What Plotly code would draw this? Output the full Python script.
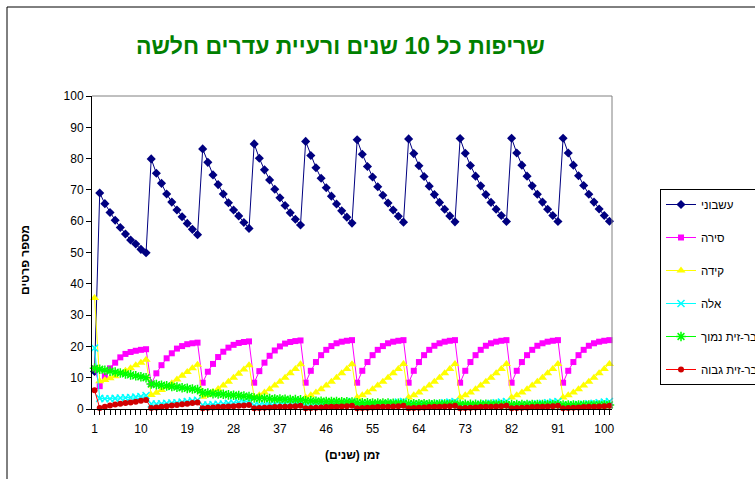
import plotly.graph_objects as go

# ---------------- data ----------------
years = list(range(1, 102))
tick_vals = [1, 10, 19, 28, 37, 46, 55, 64, 73, 82, 91, 100]
tick_text = [str(v) for v in tick_vals]
y_ticks = list(range(0, 101, 10))

names = ["עשבוני", "סירה", "קידה", "אלה", "בר-זית נמוך", "בר-זית גבוה"]

herb = [12.0,
        69.0, 65.6, 62.8, 60.3, 58.0, 55.9, 54.0, 52.7, 51.0, 49.9,
        79.9, 75.3, 72.1, 68.7, 66.1, 63.6, 61.4, 59.3, 57.4, 55.7,
        83.1, 78.8, 74.8, 71.7, 68.7, 65.9, 63.6, 61.7, 59.6, 57.7,
        84.7, 80.1, 76.4, 73.2, 70.2, 67.5, 65.0, 62.7, 60.6, 58.8,
        85.5, 81.0, 77.1, 73.7, 70.7, 68.0, 65.5, 63.3, 61.3, 59.4,
        86.0, 81.4, 77.5, 74.1, 71.0, 68.3, 65.8, 63.6, 61.6, 59.7,
        86.3, 81.6, 77.7, 74.3, 71.2, 68.5, 66.0, 63.8, 61.7, 59.8,
        86.4, 81.7, 77.8, 74.4, 71.3, 68.5, 66.0, 63.8, 61.8, 59.9,
        86.5, 81.8, 77.9, 74.4, 71.3, 68.6, 66.1, 63.8, 61.8, 59.9,
        86.5, 81.8, 77.9, 74.5, 71.4, 68.6, 66.1, 63.9, 61.8, 60.0]

sira = [13.0,
        7.3, 10.5, 13.0, 14.8, 16.5, 17.6, 18.2, 18.6, 18.9, 19.1,
        8.0, 11.4, 14.0, 16.2, 17.8, 19.3, 20.1, 20.7, 21.0, 21.2,
        8.4, 11.9, 14.4, 16.6, 18.3, 19.6, 20.5, 21.1, 21.4, 21.6,
        8.4, 12.1, 14.8, 17.0, 18.7, 20.0, 20.9, 21.4, 21.7, 21.9,
        8.4, 12.2, 15.0, 17.2, 18.9, 20.1, 21.0, 21.5, 21.8, 22.0,
        8.4, 12.2, 15.0, 17.2, 18.9, 20.1, 21.0, 21.5, 21.8, 22.0,
        8.4, 12.2, 15.0, 17.2, 18.9, 20.2, 21.0, 21.5, 21.8, 22.0,
        8.4, 12.2, 15.0, 17.2, 18.9, 20.2, 21.0, 21.5, 21.8, 22.0,
        8.4, 12.2, 15.0, 17.2, 18.9, 20.2, 21.0, 21.5, 21.8, 22.0,
        8.4, 12.2, 15.0, 17.2, 18.9, 20.2, 21.0, 21.5, 21.8, 22.0]

kida = [35.5,
        8.9, 9.3, 9.8, 10.5, 11.4, 12.2, 13.0, 14.0, 14.8, 15.7,
        4.5, 5.2, 6.1, 7.1, 8.2, 9.4, 10.6, 11.8, 13.0, 14.1,
        3.9, 4.5, 5.4, 6.4, 7.5, 8.7, 10.0, 11.3, 12.6, 14.0,
        3.8, 4.4, 5.3, 6.3, 7.5, 8.7, 10.0, 11.4, 12.8, 14.3,
        3.7, 4.4, 5.3, 6.3, 7.5, 8.7, 10.0, 11.4, 12.8, 14.3,
        3.7, 4.4, 5.3, 6.3, 7.5, 8.7, 10.0, 11.4, 12.8, 14.4,
        3.7, 4.4, 5.3, 6.3, 7.5, 8.7, 10.0, 11.4, 12.8, 14.4,
        3.7, 4.4, 5.3, 6.3, 7.5, 8.7, 10.0, 11.4, 12.8, 14.4,
        3.7, 4.4, 5.3, 6.3, 7.5, 8.7, 10.0, 11.4, 12.8, 14.4,
        3.7, 4.4, 5.3, 6.3, 7.5, 8.7, 10.0, 11.4, 12.8, 14.4]

ela = [19.5,
       3.4, 3.3, 3.3, 3.4, 3.5, 3.6, 3.7, 3.8, 4.0, 4.3,
       1.6, 1.6, 1.7, 1.8, 1.9, 2.0, 2.2, 2.4, 2.6, 2.8,
       1.3, 1.3, 1.4, 1.5, 1.6, 1.8, 1.9, 2.1, 2.3, 2.5,
       1.2, 1.2, 1.3, 1.4, 1.5, 1.7, 1.8, 2.0, 2.2, 2.4,
       1.2, 1.2, 1.3, 1.4, 1.5, 1.7, 1.8, 2.0, 2.2, 2.4,
       1.2, 1.2, 1.3, 1.4, 1.5, 1.7, 1.8, 2.0, 2.2, 2.4,
       1.2, 1.2, 1.3, 1.4, 1.5, 1.7, 1.8, 2.0, 2.2, 2.4,
       1.2, 1.2, 1.3, 1.4, 1.5, 1.7, 1.8, 2.0, 2.2, 2.4,
       1.2, 1.2, 1.3, 1.4, 1.5, 1.7, 1.8, 2.0, 2.2, 2.4,
       1.2, 1.2, 1.3, 1.4, 1.5, 1.7, 1.8, 2.0, 2.2, 2.4]

barzit_low = [13.0,
              12.7, 12.4, 12.1, 11.8, 11.5, 11.2, 10.9, 10.6, 10.3, 10.0,
              8.0, 7.8, 7.6, 7.4, 7.2, 7.0, 6.8, 6.6, 6.4, 6.2,
              5.2, 5.1, 4.9, 4.8, 4.7, 4.5, 4.4, 4.3, 4.1, 4.0,
              3.5, 3.4, 3.4, 3.3, 3.2, 3.2, 3.1, 3.0, 3.0, 2.9,
              2.6, 2.6, 2.5, 2.5, 2.4, 2.4, 2.4, 2.3, 2.3, 2.2,
              2.0, 2.0, 2.0, 1.9, 1.9, 1.9, 1.9, 1.8, 1.8, 1.8,
              1.7, 1.7, 1.7, 1.7, 1.6, 1.6, 1.6, 1.6, 1.6, 1.6,
              1.5, 1.5, 1.5, 1.5, 1.5, 1.5, 1.5, 1.5, 1.4, 1.4,
              1.4, 1.4, 1.4, 1.4, 1.4, 1.4, 1.4, 1.4, 1.4, 1.4,
              1.3, 1.3, 1.3, 1.3, 1.3, 1.3, 1.3, 1.3, 1.3, 1.3]

barzit_high = [6.0,
               0.3, 0.7, 1.1, 1.4, 1.7, 1.9, 2.1, 2.3, 2.6, 2.9,
               0.3, 0.5, 0.7, 0.9, 1.1, 1.3, 1.5, 1.7, 1.9, 2.1,
               0.2, 0.4, 0.5, 0.6, 0.7, 0.8, 0.9, 1.0, 1.1, 1.3,
               0.2, 0.3, 0.4, 0.5, 0.6, 0.7, 0.7, 0.8, 0.9, 1.0,
               0.2, 0.3, 0.4, 0.5, 0.6, 0.7, 0.7, 0.8, 0.9, 1.0,
               0.2, 0.3, 0.4, 0.5, 0.6, 0.7, 0.7, 0.8, 0.9, 1.0,
               0.2, 0.3, 0.4, 0.5, 0.6, 0.7, 0.7, 0.8, 0.9, 1.0,
               0.2, 0.3, 0.4, 0.5, 0.6, 0.7, 0.7, 0.8, 0.9, 1.0,
               0.2, 0.3, 0.4, 0.5, 0.6, 0.7, 0.7, 0.8, 0.9, 1.0,
               0.2, 0.3, 0.4, 0.5, 0.6, 0.7, 0.7, 0.8, 0.9, 1.0]

series = [herb, sira, kida, ela, barzit_low, barzit_high]

title_text = "שריפות כל 10 שנים ורעיית עדרים חלשה"
x_title = "זמן (שנים)"
y_title = "מספר פרטים"

# ---------------- styling ----------------
W, H = 755, 479
L, R, T, B = 92, 612, 96, 409
FONT = "Liberation Sans, Arial, sans-serif"


def px(x):
    return (x - L) / (R - L)


def py(y):
    return (B - y) / (B - T)


styles = [
    dict(line="#000080", marker=dict(symbol="diamond", size=7, color="#000080")),
    dict(line="#FF00FF", marker=dict(symbol="square", size=6, color="#FF00FF")),
    dict(line="#FFFF00", marker=dict(symbol="triangle-up", size=8, color="#FFFF00")),
    dict(line="#00FFFF", marker=dict(symbol="x-thin", size=7, color="#00FFFF",
                                     line=dict(color="#00FFFF", width=1.5))),
    dict(line="#00FF00", marker=dict(symbol="asterisk", size=8, color="#00FF00",
                                     line=dict(color="#00FF00", width=1.5))),
    dict(line="#FF0000", marker=dict(symbol="circle", size=6, color="#D00000")),
]

fig = go.Figure()
for name, vals, st in zip(names, series, styles):
    fig.add_trace(go.Scatter(
        x=years, y=vals, mode="lines+markers",
        name=name, legendgroup=name,
        line=dict(color=st["line"], width=1),
        marker=st["marker"], cliponaxis=False,
    ))

fig.update_layout(
    width=W, height=H,
    margin=dict(l=L, r=W - R, t=T, b=H - B, pad=0, autoexpand=False),
    paper_bgcolor="white", plot_bgcolor="white",
    font=dict(family=FONT, size=12, color="black"),
    showlegend=True,
    legend=dict(x=px(660), y=py(189), xanchor="left", yanchor="top",
                bordercolor="black", borderwidth=1, bgcolor="white",
                font=dict(size=11.5, family=FONT), tracegroupgap=14),
    xaxis=dict(range=[0.5, 101.5], tickmode="array", tickvals=tick_vals,
               ticktext=tick_text, ticks="outside", ticklen=5, tickcolor="black",
               showgrid=False, zeroline=False, ticklabelstandoff=4,
               showline=True, linecolor="black", linewidth=1,
               tickfont=dict(size=12),
               minor=dict(ticks="outside", tick0=1, dtick=1, ticklen=5,
                          tickcolor="black", showgrid=False)),
    yaxis=dict(range=[0, 100], tickvals=y_ticks, ticks="outside", ticklen=5,
               tickcolor="black", showgrid=False, zeroline=False,
               showline=True, linecolor="black", linewidth=1,
               tickfont=dict(size=12)),
    shapes=[
        dict(type="rect", xref="paper", yref="paper", x0=px(7), x1=px(800),
             y0=py(520), y1=py(7), line=dict(color="black", width=1), layer="below"),
        dict(type="line", xref="paper", yref="paper", x0=0, x1=1, y0=1, y1=1,
             line=dict(color="#808080", width=1)),
        dict(type="line", xref="paper", yref="paper", x0=1, x1=1, y0=0, y1=1,
             line=dict(color="#808080", width=1)),
    ],
    annotations=[
        dict(text="<b>" + title_text + "</b>", xref="paper", yref="paper",
             x=px(340), y=py(46), xanchor="center", yanchor="middle", showarrow=False,
             font=dict(size=23, color="#008000", family=FONT)),
        dict(text="<b>" + x_title + "</b>", xref="paper", yref="paper",
             x=px(352), y=py(455), xanchor="center", yanchor="middle", showarrow=False,
             font=dict(size=12, family=FONT)),
        dict(text="<b>" + y_title + "</b>", xref="paper", yref="paper",
             x=px(25), y=py(260), xanchor="center", yanchor="middle", showarrow=False,
             textangle=-90, font=dict(size=12, family=FONT)),
    ],
)

fig.write_html("out.html")
